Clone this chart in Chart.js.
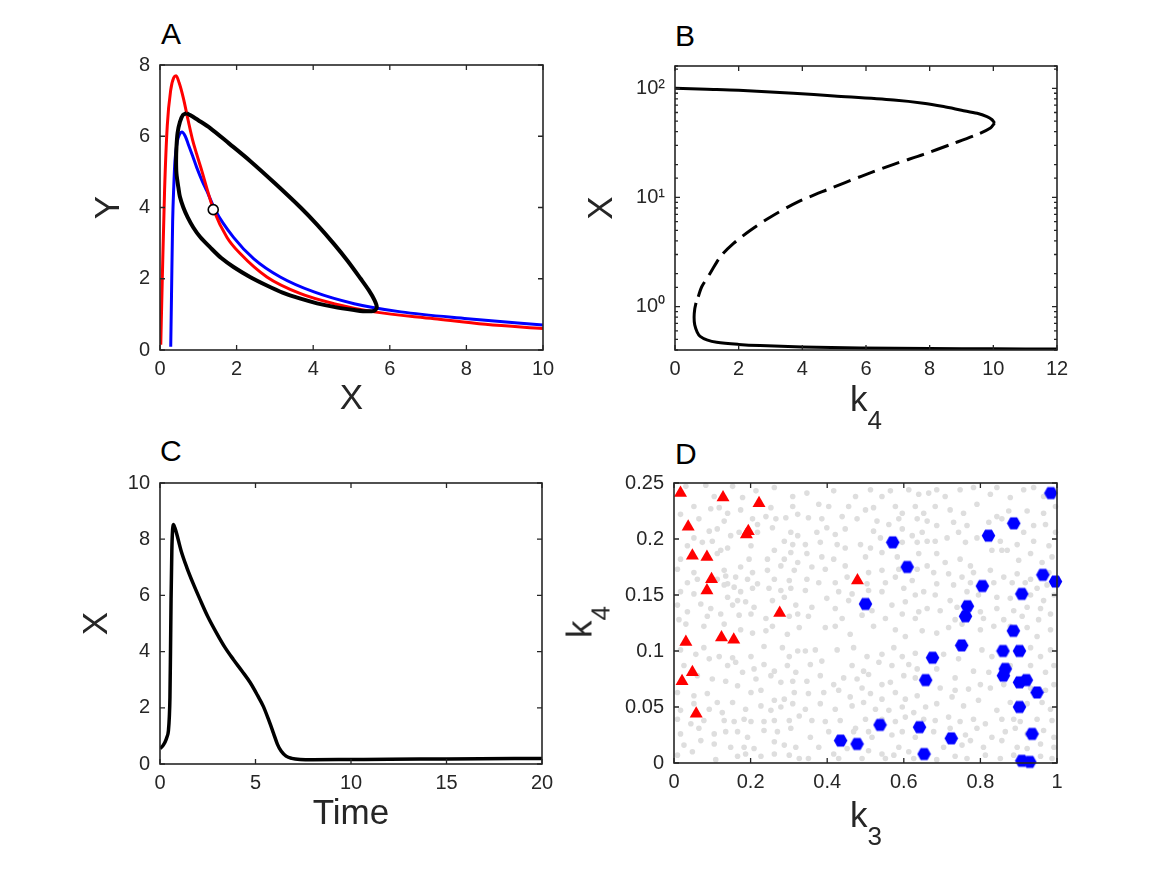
<!DOCTYPE html>
<html>
<head>
<meta charset="utf-8">
<script src="https://cdn.jsdelivr.net/npm/chart.js@4.4.1/dist/chart.umd.min.js"></script>
<style>
  body { margin:0; background:#fff; width:1167px; height:875px; position:relative; overflow:hidden;
         font-family:'Liberation Sans', Arial, sans-serif; color:#262626; }
  canvas { position:absolute; }
  .letter { position:absolute; font-size:30px; line-height:30px; color:#000; }
  .klab { position:absolute; font-size:35px; line-height:35px; white-space:nowrap; color:#262626; }
  .klab span { position:relative; top:18px; font-size:26px; }
</style>
</head>
<body>
<div class="letter" style="left:161px; top:19px;">A</div>
<div class="letter" style="left:675px; top:21px;">B</div>
<div class="letter" style="left:160px; top:436px;">C</div>
<div class="letter" style="left:675px; top:439px;">D</div>

<canvas id="chartA" width="480" height="377" style="left:88px; top:43px;"></canvas>
<canvas id="chartB" width="501" height="351" style="left:581px; top:44px;"></canvas>
<canvas id="chartC" width="491" height="374" style="left:76px; top:461px;"></canvas>
<canvas id="chartD" width="488" height="347" style="left:594px; top:461px;"></canvas>

<div class="klab" style="left:866px; top:381px; transform:translateX(-50%);">k<span>4</span></div>
<div class="klab" style="left:866px; top:797px; transform:translateX(-50%);">k<span>3</span></div>
<div class="klab" style="left:581px; top:622px; transform:translate(-50%,-50%) rotate(-90deg);">k<span>4</span></div>

<script>
// ---- A: phase plane (nullclines + limit cycle)
const redX = [0.02,0.06,0.12,0.19,0.28,0.36,0.42,0.50,0.61,0.74,0.85,0.96,1.10,1.22,1.40,1.75,2.10,2.79,3.67,4.54,5.59,7.16,8.5,10];
const redY = [0.15,2.0,4.5,6.3,7.3,7.65,7.7,7.5,7.07,6.42,5.9,5.49,5.0,4.55,3.93,3.16,2.70,2.05,1.58,1.30,1.07,0.88,0.72,0.60];
const blueX = [0.28,0.30,0.33,0.36,0.39,0.45,0.51,0.57,0.66,0.74,0.85,0.96,1.10,1.22,1.44,1.92,2.45,3.14,4.02,5.07,6.29,8.03,10];
const blueY = [0.09,1.5,3.6,4.6,5.3,5.85,6.05,6.12,6.0,5.77,5.45,5.12,4.75,4.47,3.93,3.16,2.56,2.05,1.63,1.30,1.07,0.88,0.70];
const cycleX = [0.70,1.00,1.31,1.80,2.36,3.00,3.67,4.10,4.54,4.90,5.24,5.45,5.60,5.66,5.59,5.30,5.07,4.54,4.10,3.67,
                3.20,2.79,2.35,1.92,1.60,1.31,1.05,0.87,0.72,0.61,0.52,0.48,0.43,0.42,0.43,0.46,0.52,0.60,0.70];
const cycleY = [6.65,6.45,6.23,5.80,5.30,4.68,4.00,3.52,2.98,2.50,2.00,1.68,1.40,1.20,1.10,1.09,1.12,1.21,1.31,1.44,
                1.61,1.81,2.05,2.33,2.58,2.88,3.17,3.44,3.73,4.00,4.30,4.56,4.95,5.30,5.70,6.10,6.40,6.60,6.65];
const fixedX = [1.39];
const fixedY = [3.94];

// ---- B: bifurcation diagram
const upperK4 = [0,1,2,3.72,5,6.87,7.8,8.44,9.0,9.49,9.8,9.96,10.04];
const upperX = [100,98,96,90,85,78,73,68,63,59,55,51.5,48];
const dashK4 = [10.04,9.91,9.49,8.65,7.81,6.87,5.87,4.82,3.83,2.99,2.36,1.83,1.42,1.10,0.84,0.73];
const dashX = [48,43.3,37.7,30.5,24.8,20.1,15.7,11.9,9.0,6.58,4.98,3.77,2.85,2.01,1.52,1.23];
const lowerK4 = [0.66,0.62,0.60,0.62,0.70,0.79,1.0,1.31,2.0,2.67,4.0,5.82,8.0,10.0,12.0];
const lowerX = [1.08,0.95,0.80,0.68,0.58,0.533,0.495,0.47,0.45,0.439,0.427,0.418,0.413,0.41,0.408];

// ---- C: time course
const timeVals = [0,0.15,0.26,0.36,0.44,0.49,0.52,0.55,0.58,0.62,0.66,0.70,0.78,0.87,1.1,1.4,1.75,2.1,2.5,2.97,
                  3.4,3.84,4.3,4.72,5.1,5.41,5.7,5.94,6.15,6.35,6.6,6.9,7.34,8,10,12,15,20];
const xVals = [0.55,0.65,0.77,0.95,1.18,1.7,2.36,4.0,5.9,7.6,8.35,8.52,8.4,8.2,7.6,7.0,6.4,5.85,5.25,4.65,
               4.15,3.72,3.3,2.9,2.45,2.05,1.55,1.1,0.7,0.45,0.28,0.2,0.16,0.15,0.16,0.17,0.18,0.2];

// ---- D: parameter scan
const trigK3 = [0.017,0.128,0.222,0.037,0.194,0.189,0.048,0.086,0.098,0.086,0.479,0.276,0.031,0.124,0.156,0.048,0.021,0.058];
const trigK4 = [0.241,0.237,0.232,0.211,0.207,0.204,0.185,0.184,0.164,0.154,0.163,0.134,0.108,0.112,0.110,0.081,0.073,0.044];
const oscK3 = [0.984,0.887,0.821,0.571,0.609,0.963,0.996,0.805,0.908,0.500,0.766,0.761,0.886,0.751,0.859,0.902,0.675,
               0.865,0.860,0.657,0.902,0.920,0.948,0.902,0.538,0.641,0.724,0.935,0.435,0.478,0.653,0.908,0.929];
const oscK4 = [0.241,0.214,0.203,0.197,0.175,0.168,0.162,0.158,0.151,0.142,0.140,0.131,0.118,0.105,0.100,0.100,0.094,
               0.084,0.078,0.074,0.072,0.074,0.063,0.050,0.034,0.032,0.022,0.026,0.020,0.017,0.008,0.002,0.001];
const grayPts = [
  [.031,.247],[.083,.248],[.153,.247],[.214,.243],[.262,.246],[.310,.238],[.323,.222],[.105,.238],[.179,.237],[.052,.229],
  [.096,.227],[.118,.228],[.140,.223],[.174,.226],[.253,.228],[.292,.219],[.310,.229],[.017,.222],[.065,.218],[.131,.216],
  [.205,.218],[.240,.220],[.266,.218],[.218,.213],[.257,.210],[.305,.206],[.323,.203],[.092,.207],[.113,.209],[.052,.201],
  [.148,.203],[.170,.206],[.218,.206],[.288,.198],[.310,.195],[.035,.194],[.074,.197],[.100,.198],[.122,.190],[.140,.192],
  [.201,.194],[.262,.190],[.305,.188],[.017,.182],[.113,.187],[.196,.182],[.244,.182],[.288,.182],[.323,.179],[.009,.173],
  [.052,.170],[.131,.172],[.174,.175],[.205,.170],[.244,.172],[.279,.176],[.314,.172],[.035,.161],[.061,.164],[.113,.164],
  [.135,.167],[.140,.160],[.161,.166],[.192,.164],[.218,.160],[.262,.164],[.301,.163],[.017,.153],[.052,.151],[.131,.159],
  [.157,.157],[.174,.153],[.205,.156],[.248,.156],[.279,.154],[.305,.156],[.009,.141],[.035,.135],[.070,.142],[.096,.138],
  [.140,.148],[.153,.141],[.166,.145],[.187,.144],[.209,.139],[.257,.145],[.288,.148],[.318,.141],[.087,.131],[.122,.133],
  [.170,.132],[.201,.133],[.240,.129],[.301,.131],[.323,.133],[.013,.128],
  [.347,.241],[.417,.243],[.474,.238],[.513,.244],[.543,.238],[.565,.243],[.613,.244],[.639,.240],[.665,.241],
  [.378,.231],[.404,.229],[.456,.229],[.500,.226],[.521,.228],[.578,.229],[.596,.223],[.630,.229],[.652,.223],
  [.351,.219],[.386,.218],[.439,.220],[.478,.218],[.530,.216],[.561,.213],[.587,.218],[.635,.218],[.661,.216],
  [.373,.206],[.399,.210],[.421,.204],[.447,.209],[.521,.207],[.539,.201],[.596,.209],[.622,.203],[.648,.206],
  [.343,.195],[.382,.197],[.426,.195],[.447,.192],[.487,.195],[.513,.192],[.596,.197],[.635,.197],[.661,.198],
  [.347,.187],[.386,.184],[.417,.182],[.500,.184],[.543,.188],[.583,.184],[.639,.187],
  [.360,.175],[.395,.173],[.447,.176],[.508,.170],[.543,.172],[.587,.173],[.635,.173],[.661,.176],
  [.347,.164],[.378,.161],[.421,.161],[.452,.166],[.504,.160],[.552,.161],[.578,.166],[.622,.163],
  [.343,.154],[.399,.147],[.430,.153],[.465,.151],[.508,.154],[.543,.153],[.600,.156],[.630,.150],[.652,.153],
  [.360,.139],[.421,.138],[.456,.145],[.517,.136],[.569,.141],[.604,.144],[.639,.135],[.661,.138],
  [.351,.131],[.439,.129],[.491,.132],[.552,.129],[.596,.133],[.630,.129],
  [.686,.244],[.708,.238],[.747,.244],[.782,.246],[.826,.240],[.843,.246],[.878,.237],[.913,.244],[.939,.246],[.965,.238],
  [.682,.229],[.721,.226],[.756,.223],[.791,.231],[.843,.220],[.874,.225],[.922,.225],[.965,.223],[.996,.229],
  [.686,.212],[.730,.215],[.765,.212],[.822,.215],[.856,.218],[.913,.206],[.939,.212],[.970,.213],[.996,.206],
  [.682,.198],[.713,.201],[.743,.206],[.761,.197],[.791,.201],[.852,.198],[.870,.190],[.896,.195],[.939,.198],[.979,.194],
  [.686,.187],[.708,.179],[.747,.182],[.774,.176],[.830,.190],[.856,.190],[.900,.181],[.931,.187],[.961,.179],[.987,.184],
  [.678,.170],[.717,.169],[.752,.166],[.782,.170],[.826,.172],[.861,.166],[.896,.169],[.931,.164],[.979,.170],
  [.686,.160],[.730,.159],[.774,.161],[.835,.161],[.883,.161],[.917,.161],[.948,.156],[.974,.159],
  [.682,.150],[.721,.145],[.765,.153],[.795,.150],[.843,.148],[.878,.147],[.931,.150],[.965,.145],[.992,.150],
  [.695,.136],[.739,.139],[.800,.135],[.843,.138],[.887,.136],[.922,.139],[.957,.138],[.983,.133],
  [.734,.128],[.808,.129],[.861,.128],[.909,.131],[.952,.128],
  [.031,.124],[.078,.122],[.131,.124],[.174,.119],[.205,.116],[.240,.118],[.257,.122],[.296,.115],[.327,.121],
  [.017,.101],[.057,.097],[.078,.103],[.118,.095],[.153,.094],[.201,.095],[.235,.104],[.283,.103],[.301,.095],[.323,.100],
  [.026,.087],[.092,.093],[.140,.087],[.161,.090],[.209,.084],[.235,.088],[.262,.082],[.296,.087],[.318,.081],
  [.061,.078],[.100,.075],[.135,.073],[.179,.081],[.214,.075],[.253,.078],[.279,.072],[.310,.073],
  [.009,.063],[.052,.060],[.087,.062],[.113,.054],[.166,.069],[.201,.063],[.227,.065],[.262,.056],[.288,.057],[.314,.063],
  [.017,.047],[.052,.053],[.092,.048],[.126,.045],[.153,.054],[.187,.048],[.227,.051],[.253,.047],[.279,.050],[.310,.053],
  [.009,.039],[.044,.035],[.078,.038],[.131,.038],[.157,.037],[.183,.039],[.201,.037],[.235,.037],[.262,.038],[.301,.038],[.327,.042],
  [.017,.026],[.065,.031],[.105,.026],[.135,.028],[.166,.028],[.192,.023],[.235,.029],[.270,.028],[.305,.031],
  [.026,.016],[.070,.020],[.105,.017],[.148,.014],[.183,.014],[.209,.013],[.262,.019],[.288,.016],[.318,.014],
  [.009,.007],[.048,.010],[.109,.003],[.166,.006],[.187,.008],[.227,.006],[.262,.008],[.301,.007],[.327,.004],
  [.395,.121],[.421,.122],[.460,.115],[.521,.122],[.578,.119],[.604,.113],[.648,.118],
  [.343,.100],[.369,.101],[.426,.101],[.469,.103],[.504,.095],[.543,.097],[.574,.103],[.596,.095],[.630,.098],
  [.356,.088],[.386,.091],[.465,.087],[.495,.082],[.535,.090],[.569,.087],[.613,.088],[.635,.084],
  [.347,.073],[.382,.078],[.417,.070],[.443,.076],[.478,.075],[.508,.079],[.543,.070],[.565,.072],[.600,.078],[.630,.076],
  [.351,.062],[.391,.063],[.430,.065],[.460,.059],[.491,.067],[.513,.062],[.543,.057],[.578,.063],[.604,.057],[.635,.060],
  [.343,.048],[.382,.053],[.421,.048],[.465,.051],[.495,.054],[.526,.048],[.561,.047],[.596,.050],[.626,.045],[.657,.050],
  [.360,.038],[.395,.037],[.434,.038],[.474,.031],[.500,.039],[.543,.039],[.578,.037],[.604,.041],[.652,.039],
  [.356,.023],[.404,.028],[.469,.028],[.508,.028],[.517,.023],[.569,.025],[.596,.028],[.630,.023],
  [.378,.014],[.417,.008],[.452,.013],[.508,.011],[.543,.008],[.587,.014],[.613,.010],
  [.351,.004],[.430,.004],[.491,.004],[.552,.004],[.574,.007],[.626,.004],
  [.686,.116],[.717,.121],[.752,.124],[.800,.119],[.835,.122],[.878,.122],[.922,.121],[.948,.113],[.983,.119],
  [.704,.097],[.743,.093],[.804,.101],[.830,.095],[.931,.103],[.957,.095],[.983,.101],
  [.686,.084],[.734,.076],[.782,.082],[.822,.081],[.878,.087],[.931,.087],[.970,.081],[.992,.087],
  [.695,.067],[.734,.065],[.769,.066],[.800,.070],[.826,.067],[.861,.070],[.931,.067],[.970,.065],[.992,.070],
  [.686,.053],[.726,.059],[.756,.051],[.795,.056],[.843,.047],[.878,.054],[.922,.053],[.961,.054],[.983,.048],
  [.682,.038],[.717,.041],[.747,.037],[.782,.039],[.813,.035],[.856,.039],[.887,.039],[.904,.037],[.948,.039],[.987,.038],
  [.678,.028],[.721,.031],[.761,.025],[.791,.031],[.830,.023],[.865,.028],[.891,.031],[.922,.026],[.965,.029],[.992,.023],
  [.704,.014],[.752,.016],[.774,.020],[.808,.014],[.856,.020],[.896,.014],[.922,.013],[.957,.017],[.992,.014],
  [.686,.003],[.734,.006],[.765,.004],[.813,.007],[.852,.004],[.887,.007],[.957,.006],[.987,.004]
];

const INK = '#262626';
Chart.defaults.font.family = "'Liberation Sans', Arial, sans-serif";
Chart.defaults.font.size = 20;
Chart.defaults.color = INK;
Chart.defaults.animation = false;
Chart.defaults.plugins.legend.display = false;
Chart.defaults.plugins.tooltip.enabled = false;

const pts = (xs, ys) => xs.map((x, i) => ({ x: x, y: ys[i] }));
const isPow10 = v => Math.abs(Math.log10(v) - Math.round(Math.log10(v))) < 1e-6;
const SUP = { '0': '\u2070', '1': '\u00b9', '2': '\u00b2' };
const fmt = v => String(+v.toFixed(2));

// box round the axes + ticks pointing inward on all four sides (matlab style)
const boxTicks = {
  id: 'boxTicks',
  afterDraw(chart) {
    const { ctx, chartArea: a, scales } = chart;
    ctx.save();
    ctx.strokeStyle = INK;
    ctx.lineWidth = 1.6;
    ctx.strokeRect(a.left, a.top, a.right - a.left, a.bottom - a.top);
    ctx.lineWidth = 1.3;
    ctx.beginPath();
    scales.x.ticks.forEach(t => {
      const p = scales.x.getPixelForValue(t.value);
      ctx.moveTo(p, a.bottom); ctx.lineTo(p, a.bottom - 5);
      ctx.moveTo(p, a.top); ctx.lineTo(p, a.top + 5);
    });
    const ys = scales.y;
    ys.ticks.forEach(t => {
      const p = ys.getPixelForValue(t.value);
      const len = (ys.type === 'logarithmic' && !isPow10(t.value)) ? 3 : 5;
      ctx.moveTo(a.left, p); ctx.lineTo(a.left + len, p);
      ctx.moveTo(a.right, p); ctx.lineTo(a.right - len, p);
    });
    ctx.stroke();
    ctx.restore();
  }
};

function axis(min, max, step, title, size, pad, extra) {
  return Object.assign({
    type: 'linear', min: min, max: max,
    grid: { display: false, drawTicks: false },
    border: { display: false },
    ticks: { stepSize: step, padding: pad, callback: fmt },
    title: { display: !!title, text: title, font: { size: 35 }, padding: 0, color: INK },
    afterFit: s => { if (s.isHorizontal()) s.height = size; else s.width = size; }
  }, extra || {});
}

const layout = { padding: { top: 20, right: 25, left: 0, bottom: 0 } };

// A
new Chart(document.getElementById('chartA'), {
  type: 'scatter',
  data: {
    datasets: [
      { data: pts(fixedX, fixedY), pointRadius: 5, pointBackgroundColor: '#fff', pointBorderColor: '#000', pointBorderWidth: 1.6 },
      { data: pts(cycleX, cycleY), showLine: true, pointRadius: 0, borderColor: '#000', borderWidth: 4, tension: 0.3 },
      { data: pts(redX, redY), showLine: true, pointRadius: 0, borderColor: '#ff0000', borderWidth: 3, cubicInterpolationMode: 'monotone' },
      { data: pts(blueX, blueY), showLine: true, pointRadius: 0, borderColor: '#0000ff', borderWidth: 3, cubicInterpolationMode: 'monotone' }
    ]
  },
  options: {
    responsive: false, layout: layout,
    scales: { x: axis(0, 10, 2, 'X', 70, 7), y: axis(0, 8, 2, 'Y', 72, 10) }
  },
  plugins: [boxTicks]
});

// B
new Chart(document.getElementById('chartB'), {
  type: 'scatter',
  data: {
    datasets: [
      { data: pts(upperK4, upperX), showLine: true, pointRadius: 0, borderColor: '#000', borderWidth: 3, tension: 0.3 },
      { data: pts(dashK4, dashX), showLine: true, pointRadius: 0, borderColor: '#000', borderWidth: 3, tension: 0.3, borderDash: [18, 8] },
      { data: pts(lowerK4, lowerX), showLine: true, pointRadius: 0, borderColor: '#000', borderWidth: 3, tension: 0.3 }
    ]
  },
  options: {
    responsive: false, layout: layout,
    scales: {
      x: axis(0, 12, 2, '', 45, 7),
      y: axis(0.4, 160, null, 'X', 94, 10, {
        type: 'logarithmic',
        ticks: {
          padding: 10, autoSkip: false,
          callback: v => isPow10(v) ? '10' + SUP[String(Math.round(Math.log10(v)))] : ''
        }
      })
    }
  },
  plugins: [boxTicks]
});

// C
new Chart(document.getElementById('chartC'), {
  type: 'scatter',
  data: {
    datasets: [
      { data: pts(timeVals, xVals), showLine: true, pointRadius: 0, borderColor: '#000', borderWidth: 3.5, cubicInterpolationMode: 'monotone' }
    ]
  },
  options: {
    responsive: false, layout: layout,
    scales: { x: axis(0, 20, 5, 'Time', 71, 7), y: axis(0, 10, 2, 'X', 84, 10) }
  },
  plugins: [boxTicks]
});

// D
const hex = document.createElement('canvas');
hex.width = 15; hex.height = 15;
const hc = hex.getContext('2d');
hc.fillStyle = '#0000ff';
hc.beginPath();
for (let i = 0; i < 6; i++) {
  const ang = Math.PI / 3 * i;
  hc.lineTo(7.5 + 6.8 * Math.cos(ang), 7.5 + 6.8 * Math.sin(ang));
}
hc.closePath();
hc.fill();

new Chart(document.getElementById('chartD'), {
  type: 'scatter',
  data: {
    datasets: [
      { data: pts(oscK3, oscK4), pointStyle: hex, pointRadius: 7, clip: false },
      { data: pts(trigK3, trigK4), pointStyle: 'triangle', pointRadius: 7.5, pointBackgroundColor: '#ff0000', pointBorderWidth: 0, clip: false },
      { data: grayPts.map(p => ({ x: p[0], y: p[1] })), pointRadius: 2.8, pointBackgroundColor: '#dedede', pointBorderWidth: 0, clip: false }
    ]
  },
  options: {
    responsive: false, layout: layout,
    scales: { x: axis(0, 1, 0.2, '', 45, 7), y: axis(0, 0.25, 0.05, '', 80, 10) }
  },
  plugins: [boxTicks]
});
</script>
</body>
</html>
